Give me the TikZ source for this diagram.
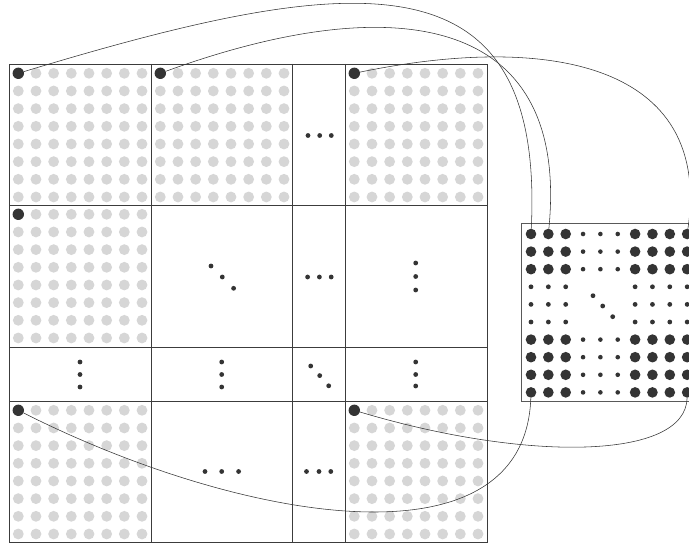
\documentclass[tikz,border=0pt]{standalone}
\definecolor{lightdot}{RGB}{214,214,214}
\definecolor{darkdot}{RGB}{52,52,52}
\definecolor{gridline}{RGB}{60,60,60}
\begin{document}
\begin{tikzpicture}[x=1pt,y=-1pt,
  griddot/.style={circle,fill=lightdot,inner sep=0pt,minimum size=10.8pt},
  cornerdot/.style={circle,fill=darkdot,inner sep=0pt,minimum size=11.4pt},
  bigdot/.style={circle,fill=darkdot,inner sep=0pt,minimum size=10.6pt},
  smalldot/.style={circle,fill=darkdot,inner sep=0pt,minimum size=4.6pt},
  elldot/.style={circle,fill=darkdot,inner sep=0pt,minimum size=4.8pt},
  gridstroke/.style={draw=gridline,line width=0.8pt},
  boxstroke/.style={draw=gridline!85,line width=0.9pt},
  link/.style={draw=darkdot,line width=0.55pt}]
\useasboundingbox (0,0) rectangle (689,545);
\clip (0,0) rectangle (689,545);
\fill[white] (0,0) rectangle (689,545);
% dotted blocks
\foreach \bx/\by in {9/64,151/64,345/64,9/205,9/401,345/401}{
  \foreach \i in {0,...,7}{
    \foreach \j in {0,...,7}{
      \node[griddot] at ({\bx+9.3+17.67*\i},{\by+9.3+17.67*\j}) {};
    }
  }
}
% grid lines
\draw[gridstroke] (9,64) rectangle (487,542);
\foreach \gx in {151,292,345}{\draw[gridstroke] (\gx,64) -- (\gx,542);}
\foreach \gy in {205,347,401}{\draw[gridstroke] (9,\gy) -- (487,\gy);}
% corner dots
\node[cornerdot] (d11) at (18.3,73.3) {};
\node[cornerdot] (d12) at (160.3,73.3) {};
\node[cornerdot] (d14) at (354.3,73.3) {};
\node[cornerdot] (d21) at (18.3,214.3) {};
\node[cornerdot] (d51) at (18.3,410.3) {};
\node[cornerdot] (d54) at (354.3,410.3) {};
% ellipsis dots in grid
\foreach \ex/\ey in {308/135.5,319.7/135.5,331.3/135.5,
  211/266,222.3/277,233.6/288.3,
  307.6/277,319.4/277,331.2/277,
  415.7/263,415.7/276.5,415.7/290,
  80/362,80/374.5,80/387,
  221.7/362,221.7/374.5,221.7/387,
  310.7/366,319.7/375.6,328.7/385.8,
  415.7/362,415.7/374.5,415.7/386,
  205/471.5,221.7/471.5,238.6/471.5,
  306.5/471.5,319/471.5,330.8/471.5}{
  \node[elldot] at (\ex,\ey) {};
}
% right matrix
\draw[boxstroke] (521.7,223.3) rectangle (700,401);
\foreach \r in {1,2,3,7,8,9,10}{
  \foreach \c in {1,2,3,7,8,9,10}{
    \node[bigdot] (m\r-\c) at ({531+17.35*(\c-1)},{234+17.6*(\r-1)}) {};
  }
  \foreach \c in {4,5,6}{
    \node[smalldot] at ({531+17.35*(\c-1)},{234+17.6*(\r-1)}) {};
  }
}
\foreach \r in {4,5,6}{
  \foreach \c in {1,2,3,7,8,9,10}{
    \node[elldot] at ({531+17.35*(\c-1)},{234+17.6*(\r-1)}) {};
  }
}
\node[elldot] at (593,295.7) {};
\node[elldot] at (602.7,306) {};
\node[elldot] at (612.7,316.7) {};
% connectors
\draw[link] (d11) .. controls (353,-28) and (545,-51) .. (m1-1);
\draw[link] (d12) .. controls (395,-12) and (570,14) .. (m1-2);
\draw[link] (d14) .. controls (550,33) and (712,64) .. (m1-10);
\draw[link] (d51) .. controls (240,522) and (525,572) .. (m10-1);
\draw[link] (d54) .. controls (527,462) and (686,460) .. (m10-10);
\end{tikzpicture}
\end{document}
